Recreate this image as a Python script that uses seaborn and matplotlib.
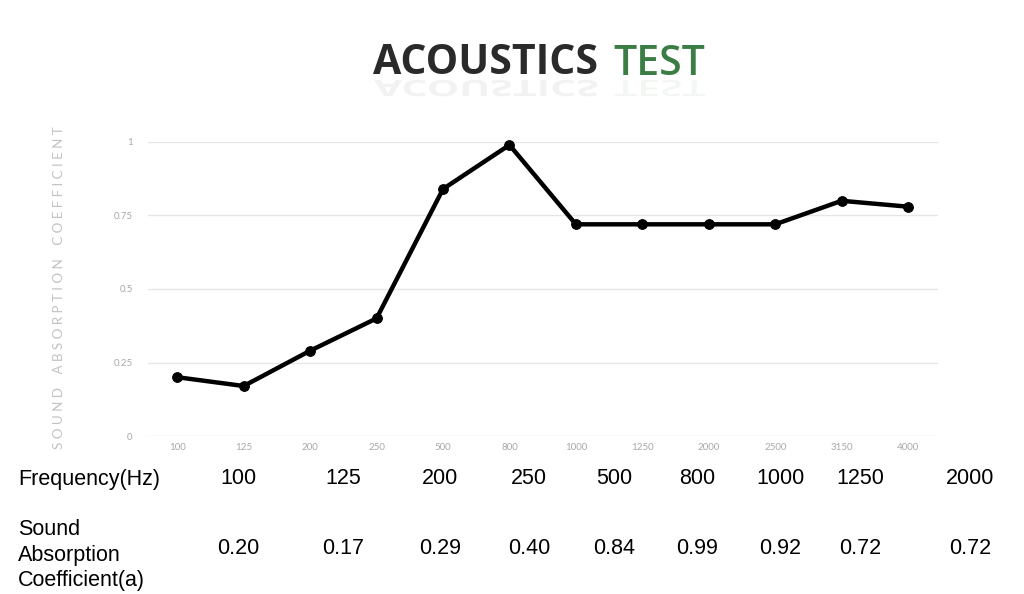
import matplotlib
matplotlib.use("Agg")
import matplotlib.pyplot as plt
import seaborn as sns
import pandas as pd
from matplotlib.textpath import TextPath
from matplotlib.patches import PathPatch
from matplotlib.font_manager import FontProperties
from matplotlib.transforms import Affine2D

# ---- data ----
freq_labels = ["100", "125", "200", "250", "500", "800", "1000", "1250",
               "2000", "2500", "3150", "4000"]
coef_values = [0.20, 0.17, 0.29, 0.40, 0.84, 0.99, 0.72, 0.72, 0.72, 0.72, 0.80, 0.78]
y_ticks = [0, 0.25, 0.5, 0.75, 1]
y_tick_labels = ["0", "0.25", "0.5", "0.75", "1"]

table_freqs = ["100", "125", "200", "250", "500", "800", "1000", "1250", "2000"]
table_coefs = ["0.20", "0.17", "0.29", "0.40", "0.84", "0.99", "0.92", "0.72", "0.72"]
table_x = [238, 343, 440, 529, 614, 697, 780, 860, 970]

sns.set_theme(style="white")
plt.rcParams['font.family'] = ['DejaVu Sans']

fig = plt.figure(figsize=(10.24, 5.94), dpi=100)
fig.patch.set_facecolor("white")
W, H = 1024, 594
ax = fig.add_axes([148 / W, (H - 436) / H, (938 - 148) / W, (436 - 142) / H])
ax.set_facecolor("none")

df = pd.DataFrame({"freq": freq_labels, "coef": coef_values})
sns.lineplot(data=df, x="freq", y="coef", ax=ax, color="black", linewidth=3.2,
             marker="o", markersize=7, markeredgecolor="black", sort=False,
             clip_on=False)

ax.set_xlim(-0.44, 11.45)
ax.set_ylim(0, 1)
ax.set_yticks(y_ticks)
ax.set_yticklabels(y_tick_labels, fontsize=7, color="#a8a8a8", family="Lato")
ax.set_xticks(range(len(freq_labels)))
ax.set_xticklabels(freq_labels, fontsize=7, color="#a8a8a8", family="Lato")
ax.tick_params(axis="y", length=0, pad=11)
ax.tick_params(axis="x", length=0, pad=5)
for yv in y_ticks:
    ax.axhline(yv, color="#e6e6e6", linewidth=1, zorder=0)
for s in ax.spines.values():
    s.set_visible(False)
ax.set_xlabel("")
ax.set_ylabel("")

# y axis label with letter spacing
ylabel = "SOUND ABSORPTION COEFFICIENT"
fig.text(59 / W, 1 - 288 / H, " ".join(ylabel).replace("   ", "    "),
         rotation=90, ha="center", va="center", fontsize=9.6,
         color="#c2c2c2", family="Lato")

# title
title_y = 64
fig.text(598 / W, 1 - title_y / H, "ACOUSTICS", ha="right", va="center",
         fontsize=29.5, fontweight="bold", color="#2a2a2a", family="Open Sans")
fig.text(613 / W, 1 - title_y / H, "TEST", ha="left", va="center",
         fontsize=29.5, fontweight="semibold", color="#3b7d45", family="Open Sans")

# faint reflection of the title
size_px = 29.5 * 100 / 72
for word, weight, color, x0 in [("ACOUSTICS", "bold", "#2a2a2a", 374),
                                 ("TEST", "semibold", "#3b7d45", 614)]:
    tp = TextPath((0, 0), word, size=size_px,
                  prop=FontProperties(family="Open Sans", weight=weight))
    base_y = H - 78  # baseline in display pixels (from bottom)
    tr = Affine2D().scale(1, -0.55).translate(x0, base_y - 2)
    patch = PathPatch(tr.transform_path(tp), facecolor=color, edgecolor="none",
                      alpha=0.06, transform=None)
    fig.patches.append(patch)

# table below chart
fs = 15.5
fam = "Liberation Sans"
fig.text(18 / W, 1 - 479 / H, "Frequency(Hz)", ha="left", va="center",
         fontsize=fs, color="black", family=fam)
for xv, f in zip(table_x, table_freqs):
    fig.text(xv / W, 1 - 479 / H, f, ha="center", va="center",
             fontsize=fs, color="black", family=fam)
fig.text(18 / W, 1 - 555 / H, "Sound\nAbsorption\nCoefficient(a)", ha="left",
         va="center", fontsize=fs, color="black", family=fam,
         linespacing=1.26)
for xv, c in zip(table_x, table_coefs):
    fig.text(xv / W, 1 - 549 / H, c, ha="center", va="center",
             fontsize=fs, color="black", family=fam)

fig.savefig("out.png", dpi=100, facecolor="white")
